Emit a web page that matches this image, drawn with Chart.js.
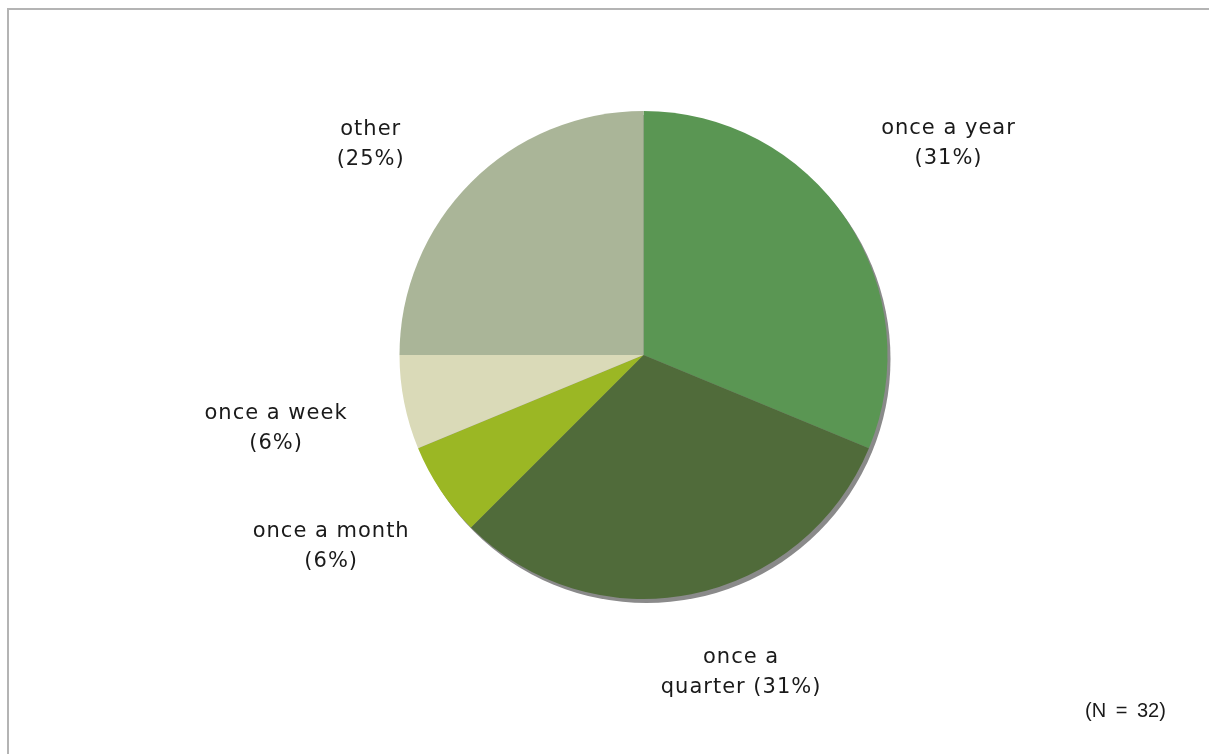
<!DOCTYPE html>
<html>
<head>
<meta charset="utf-8">
<script src="https://cdn.jsdelivr.net/npm/chart.js@4"></script>
<style>
  html, body { margin: 0; padding: 0; background: #fff; overflow: hidden; }
  #wrap { position: relative; width: 1209px; height: 754px; }
  #frame { position: absolute; left: 7px; top: 8px; width: 1400px; height: 1000px; border: 2px solid #b4b4b4; box-sizing: border-box; }
  #pie { position: absolute; left: 0; top: 0; }
  #note { position: absolute; left: 1085px; top: 699px; font: 20px "Liberation Sans", Arial, sans-serif; word-spacing: 4px; color: #1a1a1a; white-space: nowrap; }
</style>
</head>
<body>
<div id="wrap">
  <div id="frame"></div>
  <canvas id="pie" width="1209" height="754"></canvas>
  <div id="note"></div>
</div>
<script>
// Survey: how often the activity takes place
const categories = ["once a year", "once a quarter", "once a month", "once a week", "other"];
const counts = [10, 10, 2, 2, 8];
const sliceColors = ["#5a9653", "#506b3a", "#9bb724", "#dadab8", "#aab598"];
// Where each label's second line starts (word index within the category name)
const wrapAfterWord = [3, 2, 3, 3, 1];

const total = counts.reduce((a, b) => a + b, 0);

function labelLines(i) {
  const pct = Math.round(counts[i] / total * 100) + "%";
  const words = categories[i].split(" ");
  const cut = wrapAfterWord[i];
  const first = words.slice(0, cut).join(" ");
  const rest = words.slice(cut).join(" ");
  return rest ? [first, rest + " (" + pct + ")"] : [first, "(" + pct + ")"];
}

// Flat grey disc offset behind the pie
const pieShadow = {
  id: "pieShadow",
  beforeDatasetsDraw(chart, args, opts) {
    const arc = chart.getDatasetMeta(0).data[0];
    if (!arc) return;
    const ctx = chart.ctx;
    ctx.save();
    ctx.fillStyle = opts.color;
    ctx.beginPath();
    ctx.arc(arc.x + opts.dx, arc.y + opts.dy, arc.outerRadius, 0, Math.PI * 2);
    ctx.fill();
    ctx.restore();
  }
};

// Two-line category labels placed around the pie, relative to its radius
const outsideLabels = {
  id: "outsideLabels",
  afterDatasetsDraw(chart, args, opts) {
    const meta = chart.getDatasetMeta(0);
    const ctx = chart.ctx;
    ctx.save();
    ctx.font = opts.font;
    ctx.fillStyle = opts.color;
    ctx.textAlign = "center";
    ctx.textBaseline = "middle";
    if ("letterSpacing" in ctx) ctx.letterSpacing = opts.letterSpacing;
    meta.data.forEach((arc, i) => {
      const r = arc.outerRadius;
      const [fx, fy] = opts.anchors[i];
      const cx = arc.x + fx * r;
      const cy = arc.y + fy * r;
      const lines = labelLines(i);
      lines.forEach((t, k) => {
        ctx.fillText(t, cx, cy + (k - (lines.length - 1) / 2) * opts.lineHeight);
      });
    });
    ctx.restore();
  }
};

document.getElementById("note").textContent = "(N = " + total + ")";

new Chart(document.getElementById("pie"), {
  type: "pie",
  data: {
    labels: categories,
    datasets: [{
      data: counts,
      backgroundColor: sliceColors,
      borderWidth: 0,
      hoverOffset: 0
    }]
  },
  options: {
    responsive: false,
    animation: false,
    events: [],
    layout: { padding: { left: 399, right: 321, top: 111, bottom: 155 } },
    plugins: {
      legend: { display: false },
      tooltip: { enabled: false },
      pieShadow: { color: "#8a8a8a", dx: 3, dy: 4 },
      outsideLabels: {
        font: '21px "DejaVu Sans", sans-serif',
        letterSpacing: "1px",
        color: "#1a1a1a",
        lineHeight: 30,
        anchors: [
          [1.25, -0.868],
          [0.40, 1.30],
          [-1.28, 0.787],
          [-1.506, 0.30],
          [-1.118, -0.864]
        ]
      }
    }
  },
  plugins: [pieShadow, outsideLabels]
});
</script>
</body>
</html>
